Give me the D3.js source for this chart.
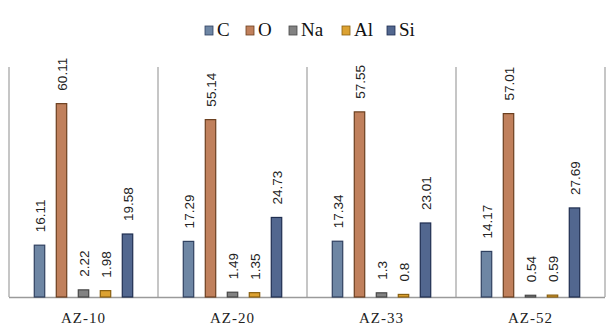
<!DOCTYPE html>
<html><head><meta charset="utf-8">
<script src="https://cdn.jsdelivr.net/npm/d3@7"></script>
<style>body{margin:0;background:#fff}svg{display:block}</style>
</head><body>
<script>
const samples = ["AZ-10", "AZ-20", "AZ-33", "AZ-52"];
const elements = ["C", "O", "Na", "Al", "Si"];
const valC  = [16.11, 17.29, 17.34, 14.17];
const valO  = [60.11, 55.14, 57.55, 57.01];
const valNa = [2.22, 1.49, 1.3, 0.54];
const valAl = [1.98, 1.35, 0.8, 0.59];
const valSi = [19.58, 24.73, 23.01, 27.69];
const fills   = ["#6e86a4", "#c0805c", "#828282", "#dca232", "#52678f"];
const strokes = ["#2f4060", "#6b3f1f", "#474747", "#8a6010", "#1f2e50"];

const series = [valC, valO, valNa, valAl, valSi];
const W = 608, H = 329;
const svg = d3.select("body").append("svg").attr("width", W).attr("height", H);

const x = d3.scaleBand().domain(samples).range([9, 605]).padding(0);
const bw = x.bandwidth();
const xi = d3.scaleBand().domain(elements).range([bw/2 - 55, bw/2 + 55]).paddingInner(0.48).paddingOuter(0.24);
const y = d3.scaleLinear().domain([0, 71.5]).range([297, 67]);

// separators
const bounds = samples.map(s => x(s)).concat([x(samples[samples.length-1]) + bw]);
svg.selectAll("line.sep").data(bounds).enter().append("line")
  .attr("x1", d => d).attr("x2", d => d).attr("y1", 67).attr("y2", y(0))
  .attr("stroke", "#a0a0a0").attr("stroke-width", 1.2);

// baseline
svg.append("line").attr("x1", 9).attr("x2", 605).attr("y1", y(0)+0.5).attr("y2", y(0)+0.5)
  .attr("stroke", "#9a9a9a").attr("stroke-width", 1.5);

const data = [];
samples.forEach((s, i) => elements.forEach((e, j) => data.push({s, e, j, v: series[j][i]})));

const g = svg.append("g");
g.selectAll("rect.bar").data(data).enter().append("rect")
  .attr("x", d => x(d.s) + xi(d.e) + 0.5)
  .attr("y", d => y(d.v))
  .attr("width", xi.bandwidth() - 1)
  .attr("height", d => y(0) - y(d.v))
  .attr("fill", d => fills[d.j])
  .attr("stroke", d => strokes[d.j]).attr("stroke-width", 1.2);

// value labels
g.selectAll("text.val").data(data).enter().append("text")
  .attr("transform", d => `translate(${x(d.s) + xi(d.e) + xi.bandwidth()/2 + 5},${y(d.v) - 13}) rotate(-90)`)
  .attr("text-anchor", "start")
  .attr("font-family", "Liberation Sans, Arial, sans-serif")
  .attr("font-size", 13.5).attr("fill", "#222")
  .text(d => d.v);

// category labels
svg.selectAll("text.cat").data(samples).enter().append("text")
  .attr("x", d => x(d) + bw/2).attr("y", 323)
  .attr("text-anchor", "middle")
  .attr("font-family", "Liberation Serif, Times New Roman, serif")
  .attr("font-size", 15).attr("letter-spacing", 1).attr("fill", "#222")
  .text(d => d);

// legend
const legX = [205, 246, 289, 342, 387];
const leg = svg.selectAll("g.leg").data(elements).enter().append("g")
  .attr("transform", (d, i) => `translate(${legX[i]},0)`);
leg.append("rect").attr("x", 0).attr("y", 26).attr("width", 8).attr("height", 9)
  .attr("fill", (d, i) => fills[i]).attr("stroke", (d, i) => strokes[i]).attr("stroke-width", 0.8);
leg.append("text").attr("x", 12).attr("y", 36)
  .attr("font-family", "Liberation Serif, Times New Roman, serif")
  .attr("font-size", 19).attr("fill", "#111")
  .text(d => d);
</script>
</body></html>
